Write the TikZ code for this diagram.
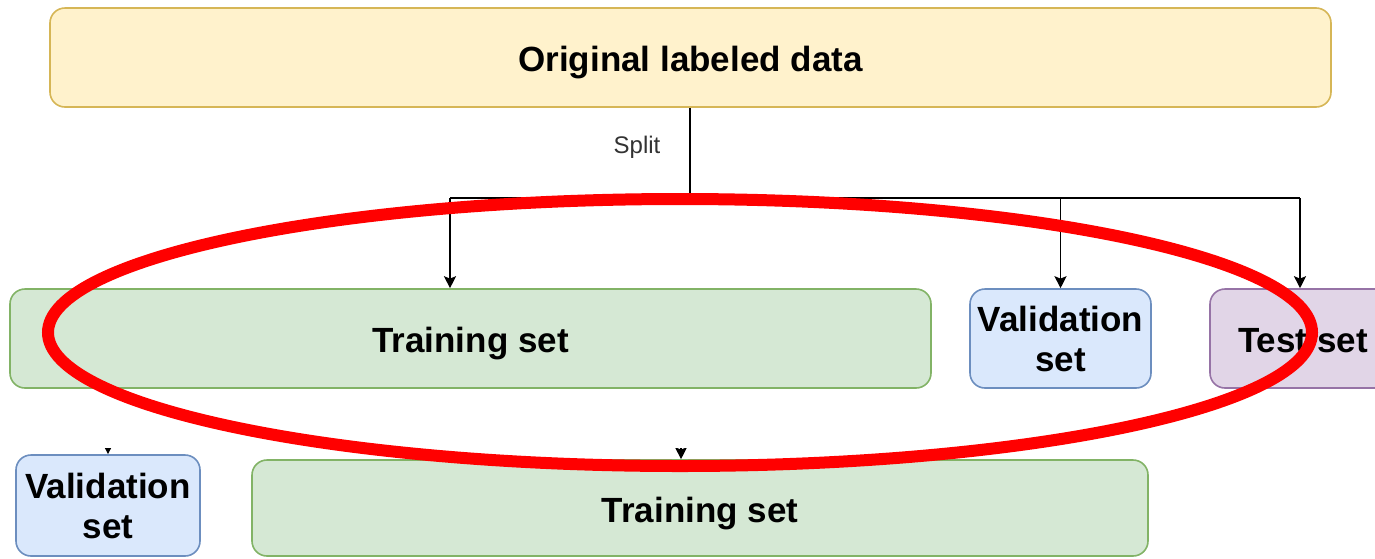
\documentclass[tikz,border=0pt]{standalone}
\usepackage{fontspec}
\setmainfont{Liberation Sans}
\usetikzlibrary{arrows.meta}
\definecolor{yfill}{HTML}{FFF2CC}\definecolor{ydraw}{HTML}{D6B656}
\definecolor{gfill}{HTML}{D5E8D4}\definecolor{gdraw}{HTML}{82B366}
\definecolor{bfill}{HTML}{DAE8FC}\definecolor{bdraw}{HTML}{6C8EBF}
\definecolor{pfill}{HTML}{E1D5E7}\definecolor{pdraw}{HTML}{9673A6}
\definecolor{splitgray}{HTML}{333333}
\begin{document}
\begin{tikzpicture}[x=0.5pt,y=-0.5pt,
  box/.style={rectangle,rounded corners=7.5pt,line width=0.8pt,inner sep=0pt,
    align=center,font=\fontsize{17.5}{20}\selectfont\bfseries},
  oneline/.style={text height=17pt,text depth=3pt},
  twoline/.style={yshift=0pt},
  ybox/.style={box,fill=yfill,draw=ydraw},
  gbox/.style={box,fill=gfill,draw=gdraw},
  bbox/.style={box,fill=bfill,draw=bdraw},
  pbox/.style={box,fill=pfill,draw=pdraw},
  conn/.style={line width=0.75pt,black},
  arr/.style={conn,-{Stealth[length=6pt,width=6pt,inset=1.2pt]}},
  ring/.style={draw=red,line width=6pt}]
\clip (0,0) rectangle (1375,558);
\fill[white] (0,0) rectangle (1375,558);
\node[ybox,oneline,minimum width=640.5pt,minimum height=49.5pt] (orig) at (690.5,57.5) {Original labeled data};
\node[gbox,oneline,minimum width=460.5pt,minimum height=49.5pt] (trtop) at (470.5,338.5) {Training set};
\node[bbox,minimum width=90.5pt,minimum height=49.5pt] (valtop) at (1060.5,338.5) {Validation\\set};
\node[pbox,oneline,minimum width=93pt,minimum height=49.5pt] (test) at (1303,338.5) {Test set};
\node[bbox,minimum width=92pt,minimum height=50.5pt] (valb) at (108,505.5) {Validation\\set};
\node[gbox,oneline,minimum width=448pt,minimum height=48pt] (trb) at (700,508) {Training set};
\node[font=\fontsize{12}{14}\selectfont,text=splitgray] (split) at (637,147) {Split};
\coordinate (j) at (690,198);
\coordinate (jl) at (450,198);
\coordinate (jr) at (1300,198);
\draw[conn] (orig.south -| j) -- (j);
\draw[conn] (jl) -- (jr);
\draw[arr] (jl) -- (450,0 |- trtop.north);
\draw[arr] (j -| valtop.north) -- (valtop.north);
\draw[arr] (jr) -- (1300,0 |- test.north);
\begin{scope}
\clip (0,448) rectangle (1375,558);
\coordinate (va) at (108,420);
\coordinate (ta) at (681,420);
\draw[arr] (va) -- (valb.north);
\draw[arr] (ta) -- (681,0 |- trb.north);
\end{scope}
\draw[ring] (680,332.5) ellipse [x radius=632, y radius=133.5];
\end{tikzpicture}
\end{document}
